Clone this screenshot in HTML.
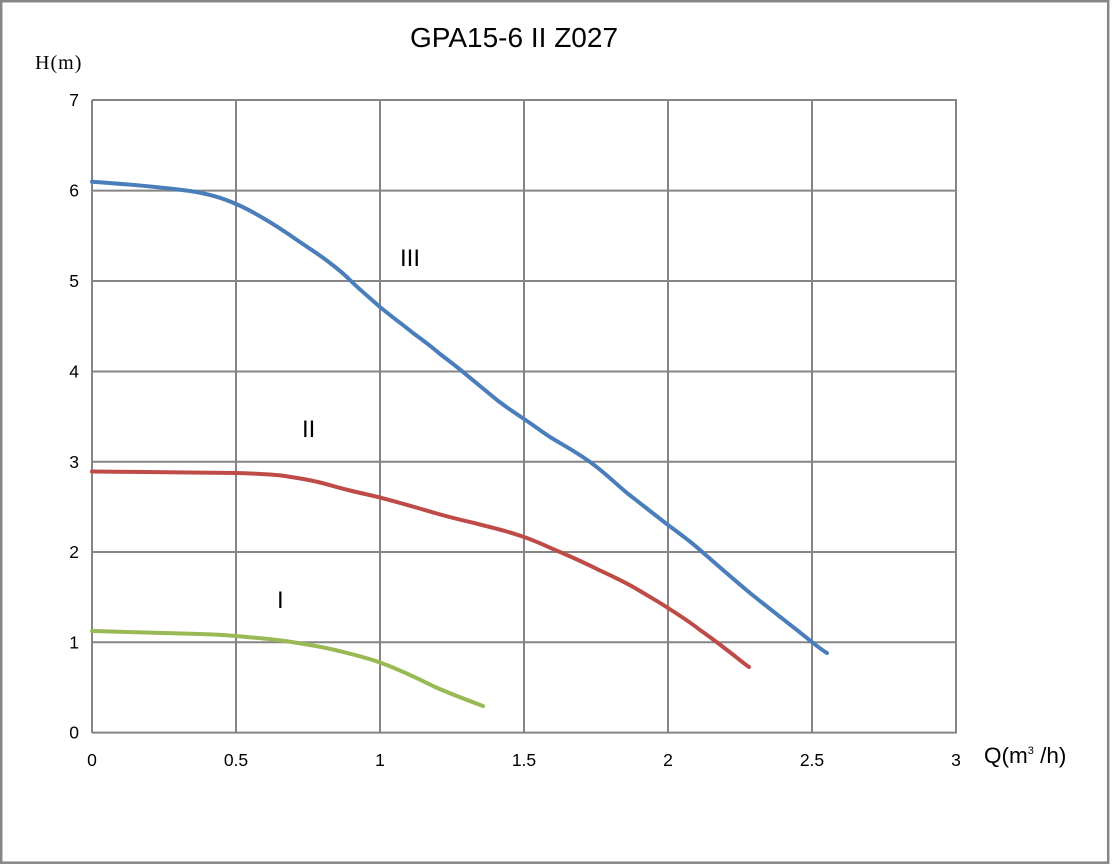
<!DOCTYPE html>
<html>
<head>
<meta charset="utf-8">
<style>
  html, body { margin: 0; padding: 0; background: #ffffff; }
  body { width: 1112px; height: 864px; overflow: hidden; }
  svg { display: block; }
</style>
</head>
<body>
<svg width="1112" height="864" viewBox="0 0 1112 864" xmlns="http://www.w3.org/2000/svg">
  <rect x="0" y="0" width="1112" height="864" fill="#ffffff"/>
  <!-- outer border -->
  <rect x="1.2" y="1.2" width="1107" height="861.5" fill="none" stroke="#868686" stroke-width="2.5"/>

  <!-- title -->
  <text x="514" y="47" font-family="Liberation Sans, Arial, sans-serif" font-size="28" text-anchor="middle" fill="#000">GPA15-6 II Z027</text>

  <!-- H(m) axis label -->
  <text x="35" y="69" font-family="Liberation Serif, serif" font-size="20" fill="#000">H<tspan dx="1">(</tspan><tspan dx="1">m</tspan><tspan dx="1">)</tspan></text>

  <!-- grid -->
  <g stroke="#858585" stroke-width="2" fill="none">
    <line x1="92" y1="100" x2="957" y2="100"/>
    <line x1="92" y1="190.6" x2="957" y2="190.6"/>
    <line x1="92" y1="281" x2="957" y2="281"/>
    <line x1="92" y1="371.5" x2="957" y2="371.5"/>
    <line x1="92" y1="461.8" x2="957" y2="461.8"/>
    <line x1="92" y1="552" x2="957" y2="552"/>
    <line x1="92" y1="642.3" x2="957" y2="642.3"/>
    <line x1="92" y1="732.6" x2="957" y2="732.6"/>
    <line x1="92" y1="100" x2="92" y2="733"/>
    <line x1="236" y1="100" x2="236" y2="733"/>
    <line x1="380" y1="100" x2="380" y2="733"/>
    <line x1="524" y1="100" x2="524" y2="733"/>
    <line x1="668" y1="100" x2="668" y2="733"/>
    <line x1="812" y1="100" x2="812" y2="733"/>
    <line x1="956" y1="100" x2="956" y2="733"/>
  </g>

  <!-- y tick labels -->
  <g font-family="Liberation Sans, Arial, sans-serif" font-size="17.5" fill="#000" text-anchor="end">
    <text x="79" y="106">7</text>
    <text x="79" y="196.6">6</text>
    <text x="79" y="287">5</text>
    <text x="79" y="377.5">4</text>
    <text x="79" y="467.8">3</text>
    <text x="79" y="558">2</text>
    <text x="79" y="648.3">1</text>
    <text x="79" y="738.6">0</text>
  </g>

  <!-- x tick labels -->
  <g font-family="Liberation Sans, Arial, sans-serif" font-size="17.5" fill="#000" text-anchor="middle">
    <text x="92" y="766">0</text>
    <text x="236" y="766">0.5</text>
    <text x="380" y="766">1</text>
    <text x="524" y="766">1.5</text>
    <text x="668" y="766">2</text>
    <text x="812" y="766">2.5</text>
    <text x="956" y="766">3</text>
  </g>

  <!-- Q axis label -->
  <text x="984" y="763" font-family="Liberation Sans, Arial, sans-serif" font-size="22.5" fill="#000">Q(m<tspan font-size="11" dy="-9">3</tspan><tspan dy="9"> /h)</tspan></text>

  <!-- series -->
  <g fill="none" stroke-width="4" stroke-linecap="round" stroke-linejoin="round">
    <path stroke="#4a7ebb" d="M92,181.7 C125,184 160,187 190,191 C210,194 225,199 236,204 C248,209 256,214 263,218 C275,225 287,233 297,240 C310,249 320,255 330,263 C338,269 345,275 351,281 C360,290 370,298 380,307 C392,317 402,324 413,333 C424,341 432,347 440,354 C448,360 456,366 463,372 C475,382 486,391 497,400 C506,407 515,413 524,419 C533,425 541,431 550,437 C563,445 578,453 590,462 C603,471 615,483 627,493 C641,504 654,514 668,525 C679,533 690,541 700,550 C716,564 733,579 750,593 C771,610 792,626 812,642 C818,647 822,650 827,653"/>
    <path stroke="#be4b48" d="M92,471.5 C140,472 190,472.5 235,473 C255,473.5 270,474 285,476 C298,478 308,479.5 318,482 C330,485 340,488 350,490.5 C360,493 370,495 380,497.5 C398,502 418,508 435,513 C452,518 466,521 480,524.5 C490,527 497,529 505,531 C512,533 518,535 524,537 C536,541 548,547 560,552 C574,558 587,564 600,570.5 C614,577 627,583 640,591 C650,597 659,602 668,608 C679,615 690,622 700,630 C710,637 718,643 727,650 C735,656 742,662 749,667"/>
    <path stroke="#98b954" d="M92,631 C130,632 170,633 200,634 C215,634.5 225,635 235,636 C252,637.5 268,638.5 285,641 C302,643.5 318,646 335,650 C351,654 366,657.5 380,662.5 C398,669 417,678 435,687 C451,694 467,700 483,706"/>
  </g>

  <!-- roman labels -->
  <g font-family="Liberation Sans, Arial, sans-serif" font-size="24" fill="#000">
    <text x="400" y="266">III</text>
    <text x="302" y="437">II</text>
    <text x="277" y="608">I</text>
  </g>
</svg>
</body>
</html>
